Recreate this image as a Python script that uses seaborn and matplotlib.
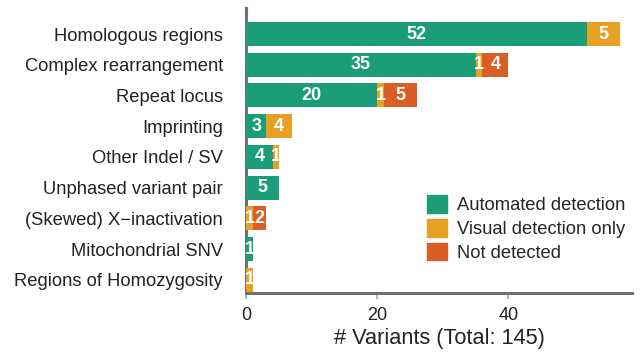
import matplotlib
matplotlib.use("Agg")
import matplotlib.pyplot as plt
import seaborn as sns
import pandas as pd
import numpy as np

categories = ["Homologous regions", "Complex rearrangement", "Repeat locus", "Imprinting",
              "Other Indel / SV", "Unphased variant pair", "(Skewed) X\u2212inactivation",
              "Mitochondrial SNV", "Regions of Homozygosity"]
automated = [52, 35, 20, 3, 4, 5, 0, 1, 0]
visual = [5, 1, 1, 4, 1, 0, 1, 0, 1]
not_detected = [0, 4, 5, 0, 0, 0, 2, 0, 0]
series_names = ["Automated detection", "Visual detection only", "Not detected"]
colors = ["#1b9e77", "#e6a024", "#d95f27"]

sns.set_theme(style="white")
plt.rcParams['font.family'] = ['Liberation Sans', 'DejaVu Sans']

fig, ax = plt.subplots(figsize=(6.4, 3.58), dpi=100)
fig.subplots_adjust(left=0.385, right=0.988, top=0.978, bottom=0.182)

vals = [automated, visual, not_detected]
left = np.zeros(len(categories))
for name, v, c in zip(series_names, vals, colors):
    df = pd.DataFrame({"cat": categories, "val": np.array(v) + left})
    sns.barplot(data=df, y="cat", x="val", color=c, ax=ax, width=0.78,
                label=name, saturation=1)
    left = left + np.array(v)

# earlier (inner) segments drawn on top of the cumulative bars
for i, cont in enumerate(ax.containers):
    for p in cont:
        p.set_zorder(10 - i)
        p.set_edgecolor("none")

# value labels
left = np.zeros(len(categories))
for v in vals:
    for i, val in enumerate(v):
        if val > 0:
            ax.text(left[i] + val / 2, i, str(val), ha="center", va="center",
                    color="white", fontsize=13, fontweight="bold", zorder=20)
    left = left + np.array(v)

ax.set_xlim(0, 58.9)
ax.set_ylim(8.42, -0.85)
ax.set_xticks([0, 20, 40])
ax.set_ylabel("")
ax.set_xlabel("# Variants (Total: 145)", fontsize=15.7, color="#222222", labelpad=3)
ax.tick_params(axis="x", labelsize=13, colors="#222222", length=4, color="#aaaaaa", bottom=True, pad=6)
ax.tick_params(axis="y", labelsize=13.2, colors="#222222", length=0, pad=17)
for s in ["top", "right"]:
    ax.spines[s].set_visible(False)
for s in ["left", "bottom"]:
    ax.spines[s].set_color("#707070")
    ax.spines[s].set_linewidth(2.2)

handles = [plt.Rectangle((0, 0), 1, 1, color=c) for c in colors]
ax.legend(handles, series_names, loc="lower right", bbox_to_anchor=(1.0, 0.084),
          frameon=False, fontsize=13.2, handlelength=1.1, handleheight=1.1,
          handletextpad=0.5, labelspacing=0.25, borderaxespad=0)

fig.savefig("out.png", dpi=100)
